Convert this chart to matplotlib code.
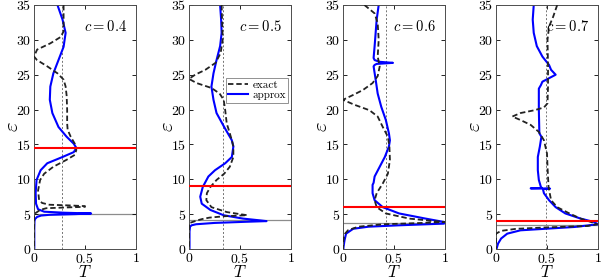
import matplotlib
matplotlib.use("Agg")
import matplotlib.pyplot as plt

plt.rcParams["font.family"] = "serif"
plt.rcParams["font.serif"] = ["cmr10"]
plt.rcParams["mathtext.fontset"] = "cm"
plt.rcParams["axes.formatter.use_mathtext"] = True

# ----------------------------------------------------------------------------
# data (eps on the vertical axis, T horizontal)
# ----------------------------------------------------------------------------
c_values = [0.4, 0.5, 0.6, 0.7]
ref_T = [0.27, 0.33, 0.42, 0.49]          # vertical dotted lines
gray_eps = [5.0, 4.22, 3.74, 3.4]          # thin gray horizontal lines
red_eps = [14.5, 9.0, 6.0, 4.05]           # red horizontal lines

exact_eps_04 = [35, 33, 31.2, 30.4, 29.5, 28.6, 27.6, 27.1, 26.2, 25.2, 24.3, 23.3, 22, 20, 18, 17.1,
                16.1, 15.1, 14.2, 13.5, 12.8, 11.8, 10.8, 9.9, 8.4, 7.0, 6.6, 6.35, 6.25, 6.15, 6.05,
                5.95, 5.85, 5.6, 5.3, 5.1, 5.0, 0]
exact_T_04 = [0.29, 0.29, 0.29, 0.26, 0.16, 0.03, 0.0, 0.03, 0.13, 0.23, 0.29, 0.31, 0.32, 0.325, 0.325,
              0.33, 0.36, 0.40, 0.415, 0.40, 0.32, 0.19, 0.10, 0.06, 0.04, 0.05, 0.08, 0.15, 0.35, 0.5,
              0.5, 0.3, 0.12, 0.06, 0.03, 0.01, 0.0, 0.0]
approx_eps_04 = [35, 32.9, 31, 29, 27.1, 25.2, 23.3, 21.4, 19.5, 17.5, 16.1, 15.1, 14.5, 13.9, 13.2, 12.3,
                 11.3, 9.9, 8.0, 6.5, 5.7, 5.35, 5.2, 5.1, 5.0, 4.9, 4.8, 4.6, 4.3, 4.0, 3.0, 0]
approx_T_04 = [0.23, 0.28, 0.31, 0.29, 0.24, 0.19, 0.16, 0.155, 0.18, 0.24, 0.32, 0.39, 0.415, 0.39, 0.28,
               0.13, 0.065, 0.025, 0.016, 0.02, 0.04, 0.1, 0.3, 0.56, 0.4, 0.15, 0.07, 0.03, 0.01, 0.005,
               0.003, 0.003]

exact_eps_05 = [35, 30, 28.1, 26.7, 25.7, 25.0, 24.4, 23.8, 23.1, 22.3, 21.4, 19.9, 18.0, 16.6, 15.6, 14.7,
                13.2, 11.8, 10.8, 9.9, 8.9, 8.0, 7.0, 6.0, 5.3, 5.0, 4.85, 4.7, 4.5, 4.3, 4.1, 3.9, 3.7, 0]
exact_T_05 = [0.32, 0.33, 0.31, 0.26, 0.16, 0.06, 0.0, 0.075, 0.22, 0.30, 0.34, 0.355, 0.37, 0.40, 0.42,
              0.435, 0.435, 0.40, 0.345, 0.27, 0.21, 0.175, 0.17, 0.22, 0.37, 0.5, 0.57, 0.35, 0.2, 0.13,
              0.08, 0.04, 0.0, 0.0]
approx_eps_05 = [35, 32.9, 31, 29.1, 27.1, 25.2, 23.3, 21.4, 19.5, 17.5, 15.6, 14.7, 13.2, 12.3, 11.3, 10.4,
                 8.9, 7.5, 6.5, 5.6, 4.84, 4.36, 4.1, 4.0, 3.9, 3.74, 3.55, 3.4, 3.2, 2.5, 0]
approx_T_05 = [0.305, 0.315, 0.32, 0.305, 0.27, 0.24, 0.22, 0.24, 0.27, 0.345, 0.42, 0.435, 0.42, 0.355,
               0.255, 0.19, 0.135, 0.11, 0.125, 0.21, 0.34, 0.53, 0.7, 0.76, 0.55, 0.25, 0.07, 0.025, 0.01,
               0.005, 0.005]

exact_eps_06 = [35, 33.8, 32.4, 30, 27.6, 26.2, 24.8, 23.8, 22.8, 22.1, 21.4, 20.7, 19.9, 19.0, 17.5, 16.1,
                14.7, 12.8, 10.8, 9.4, 8.0, 7.0, 6.0, 5.1, 4.36, 4.0, 3.88, 3.75, 3.55, 3.2, 2.7, 2.2, 1.5, 0]
exact_T_06 = [0.21, 0.31, 0.34, 0.35, 0.34, 0.36, 0.34, 0.29, 0.195, 0.10, 0.0, 0.11, 0.26, 0.34, 0.39,
              0.44, 0.455, 0.46, 0.44, 0.39, 0.33, 0.31, 0.33, 0.42, 0.65, 0.9, 1.0, 0.8, 0.4, 0.15, 0.05,
              0.02, 0.005, 0.0]
approx_eps_06 = [35, 32.9, 31, 29.1, 27.4, 27.1, 26.85, 26.7, 26.55, 26.4, 26.2, 24.3, 22.3, 20.4, 18.5,
                 16.6, 15.6, 14.7, 13.2, 11.8, 10.4, 9.5, 9.2, 8.0, 7.0, 6.0, 5.1, 4.36, 3.88, 3.64, 3.4,
                 3.2, 2.9, 2.2, 1.25, 0.3, 0]
approx_T_06 = [0.35, 0.33, 0.32, 0.31, 0.30, 0.31, 0.36, 0.49, 0.33, 0.31, 0.30, 0.32, 0.34, 0.375, 0.42,
               0.45, 0.46, 0.45, 0.41, 0.36, 0.31, 0.30, 0.29, 0.29, 0.31, 0.39, 0.55, 0.81, 0.99, 0.99,
               0.55, 0.25, 0.1, 0.03, 0.015, 0.005, 0.004]

exact_eps_07 = [35, 33.3, 31.9, 30, 26.2, 23.3, 20.9, 20.3, 19.9, 19.5, 19.0, 18.5, 17.8, 16.8, 15.6, 13.7,
                11.8, 8.9, 7.0, 6.0, 5.1, 4.36, 3.88, 3.55, 3.3, 3.1, 2.9, 2.6, 2.2, 0]
exact_T_07 = [0.60, 0.56, 0.52, 0.505, 0.51, 0.51, 0.505, 0.47, 0.375, 0.24, 0.16, 0.24, 0.34, 0.42, 0.47,
              0.50, 0.505, 0.515, 0.54, 0.60, 0.72, 0.83, 0.93, 0.99, 0.9, 0.5, 0.2, 0.05, 0.0, 0.0]
approx_eps_07 = [35, 32.9, 31, 29.1, 27.6, 26.4, 25.7, 25.0, 24.5, 24.0, 23.5, 23.0, 20, 16.6, 16.1, 14.7,
                 13.2, 11.3, 9.9, 8.9, 8.75, 8.7, 8.66, 8.6, 8.0, 7.0, 6.0, 5.1, 4.36, 3.88, 3.55, 3.16,
                 2.68, 2.2, 1.5, 0.77, 0]
approx_T_07 = [0.37, 0.36, 0.37, 0.40, 0.455, 0.52, 0.54, 0.585, 0.52, 0.455, 0.44, 0.42, 0.42, 0.425,
               0.445, 0.43, 0.41, 0.41, 0.42, 0.44, 0.45, 0.34, 0.53, 0.46, 0.47, 0.52, 0.585, 0.68, 0.83,
               0.96, 1.0, 0.77, 0.24, 0.11, 0.05, 0.02, 0.005]

exact = [(exact_T_04, exact_eps_04), (exact_T_05, exact_eps_05),
         (exact_T_06, exact_eps_06), (exact_T_07, exact_eps_07)]
approx = [(approx_T_04, approx_eps_04), (approx_T_05, approx_eps_05),
          (approx_T_06, approx_eps_06), (approx_T_07, approx_eps_07)]

# ----------------------------------------------------------------------------
# figure
# ----------------------------------------------------------------------------
fig = plt.figure(figsize=(6.02, 2.79), dpi=100)
lefts_px = [34, 189, 343, 496]
W, H = 602, 279

for i, lx in enumerate(lefts_px):
    ax = fig.add_axes([lx / W, 30 / H, 102 / W, 244 / H])

    ax.axvline(ref_T[i], color="0.45", lw=0.7, ls=(0, (2, 2)), zorder=1)
    ax.axhline(gray_eps[i], color="0.55", lw=0.9, zorder=1)
    ax.axhline(red_eps[i], color="#ff0000", lw=1.5, zorder=4)

    ex_T, ex_eps = exact[i]
    ap_T, ap_eps = approx[i]
    ax.plot(ex_T, ex_eps, color="#222222", lw=1.3, ls=(0, (3, 1.6)), zorder=3, label="exact")
    ax.plot(ap_T, ap_eps, color="#0000ff", lw=1.5, zorder=2, label="approx")

    ax.set_xlim(0, 1)
    ax.set_ylim(0, 35)
    ax.set_xticks([0, 0.5, 1])
    ax.set_xticklabels(["$0$", "$0.5$", "$1$"])
    ax.set_yticks(range(0, 36, 5))
    ax.set_yticklabels([f"${v}$" for v in range(0, 36, 5)])
    ax.tick_params(direction="in", top=True, right=True, labelsize=10, length=3, width=0.6, pad=2)
    for sp in ax.spines.values():
        sp.set_linewidth(0.7)
        sp.set_color("0.3")

    ax.set_xlabel("$T$", fontsize=12, labelpad=-1)
    ax.set_ylabel(r"$\varepsilon$", fontsize=15, va="center", ha="center")
    ax.yaxis.set_label_coords(-0.21, 0.5)
    ax.text(0.70, 0.91, f"$c = {c_values[i]}$", transform=ax.transAxes,
            ha="center", va="center", fontsize=10.5)

    if i == 1:
        leg = ax.legend(loc="upper right", bbox_to_anchor=(0.995, 0.71), fontsize=8,
                        handlelength=1.8, handletextpad=0.4, borderpad=0.2,
                        labelspacing=0.05, fancybox=False, framealpha=1, borderaxespad=0.2)
        leg.get_frame().set_edgecolor("0.5")
        leg.get_frame().set_linewidth(0.6)

fig.savefig("out.png", dpi=100)
